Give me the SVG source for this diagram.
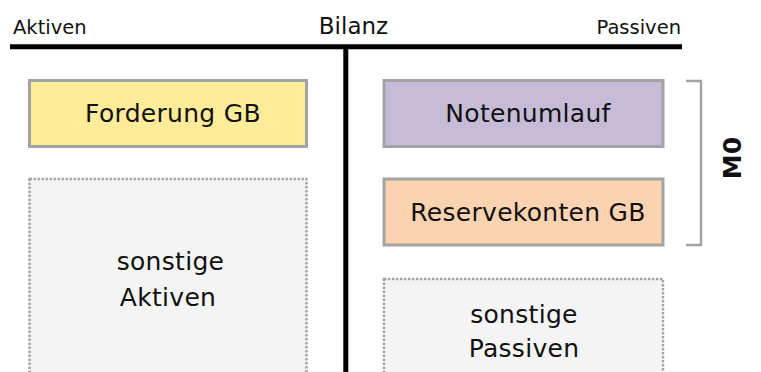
<svg xmlns="http://www.w3.org/2000/svg" width="761" height="372" viewBox="0 0 761 372">
  <style>
    text { font-family: "DejaVu Sans", "Liberation Sans", sans-serif; fill: #111; }
    .lbl { font-size: 25px; letter-spacing: 0.3px; text-anchor: middle; }
    .hdr { font-size: 19.5px; }
    .box { stroke: #a3a3a3; stroke-width: 3; }
    .other { fill: #f4f4f4; stroke: #a3a3a3; stroke-width: 2.5; stroke-dasharray: 2.5 1.5; }
    .axis { stroke: #000; stroke-width: 5; fill: none; }
  </style>

  <!-- T-account frame -->
  <g id="frame">
    <line class="axis" x1="10" y1="46.8" x2="682" y2="46.8"/>
    <line class="axis" x1="345.8" y1="46.8" x2="345.8" y2="372"/>
    <text class="hdr" x="13" y="34">Aktiven</text>
    <text x="353.5" y="34" style="font-size:23px;text-anchor:middle">Bilanz</text>
    <text class="hdr" x="681" y="34" text-anchor="end">Passiven</text>
  </g>

  <g id="forderung">
    <rect class="box" x="29.5" y="80.5" width="277" height="66" fill="#ffec99"/>
    <text class="lbl" x="173" y="121.5">Forderung GB</text>
  </g>

  <g id="sonstige-aktiven">
    <rect class="other" x="29.5" y="179" width="277" height="200"/>
    <text class="lbl" x="170.5" y="270">sonstige</text>
    <text class="lbl" x="168" y="306">Aktiven</text>
  </g>

  <g id="notenumlauf">
    <rect class="box" x="384" y="80.5" width="279" height="66" fill="#c7bcd8"/>
    <text class="lbl" x="528" y="121.5">Notenumlauf</text>
  </g>

  <g id="reservekonten">
    <rect class="box" x="384" y="179" width="279" height="66" fill="#fcd3b1"/>
    <text class="lbl" x="528" y="221">Reservekonten GB</text>
  </g>

  <g id="sonstige-passiven">
    <rect class="other" x="384" y="279" width="279" height="100"/>
    <text class="lbl" x="524" y="323">sonstige</text>
    <text class="lbl" x="524" y="357">Passiven</text>
  </g>

  <!-- M0 bracket -->
  <g id="m0">
    <polyline points="686,81 701,81 701,245 686,245" fill="none" stroke="#a3a3a3" stroke-width="2.5"/>
    <text x="0" y="0" transform="translate(741,158) rotate(-90)" style="font-size:25px;font-weight:bold;text-anchor:middle">M0</text>
  </g>
</svg>
